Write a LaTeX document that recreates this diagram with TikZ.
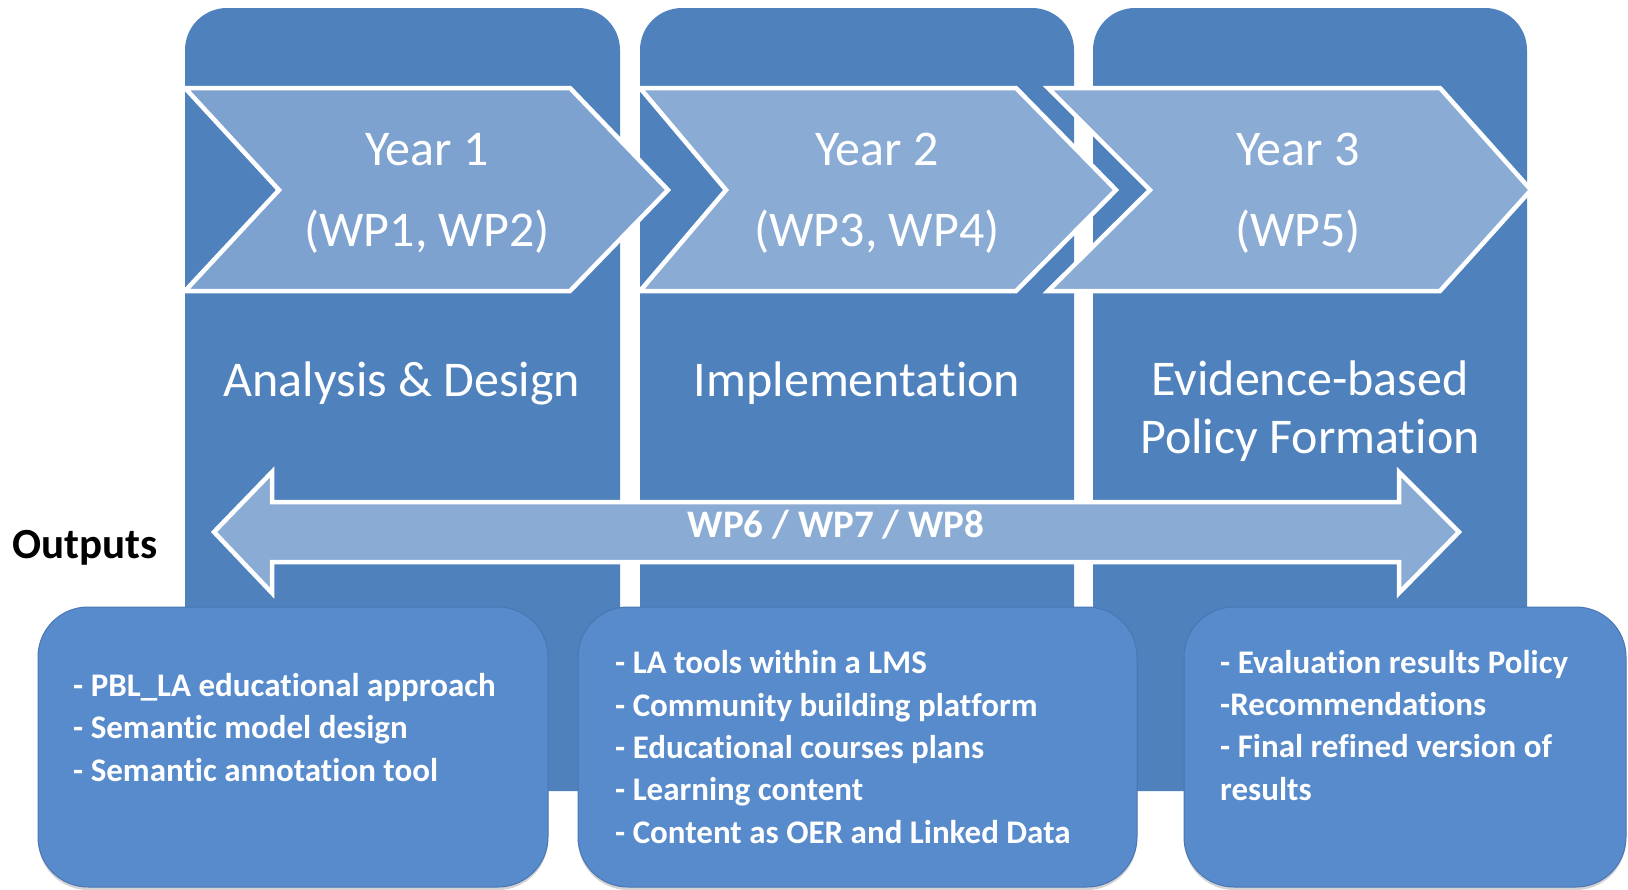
\documentclass[tikz,border=0pt]{standalone}
\usepackage{fontspec}
\setmainfont{Carlito}[Ligatures={NoCommon}]
\usepackage{tikz}
\usetikzlibrary{shadows}

\definecolor{phaseblue}{RGB}{79,129,189}
\definecolor{chevfirst}{RGB}{126,162,207}
\definecolor{chevlight}{RGB}{138,171,212}
\definecolor{outblue}{RGB}{88,139,203}
\definecolor{outedge}{RGB}{74,118,180}

\begin{document}
\begin{tikzpicture}[x=1pt, y=-1pt,
		phase/.style={fill=phaseblue, rounded corners=42},
		chevron/.style={fill=chevlight, draw=white, line width=4.5},
		outbox/.style={fill=outblue, draw=outedge, line width=1, rounded corners=50,
			drop shadow={shadow xshift=0pt, shadow yshift=-3pt, opacity=0.35}},
		headtext/.style={text=white, font=\fontsize{50}{58}\selectfont, inner sep=0, anchor=base},
		itemtext/.style={text=white, font=\bfseries\fontsize{33}{42.3}\selectfont, align=left, inner sep=0, anchor=base west}]
		%%%%% START %%%%%
		
		\useasboundingbox (0,0) rectangle (1628,889);
		
		% the three years
		\fill[phase] (185,8) rectangle (620,791);
		\fill[phase] (640,8) rectangle (1074,791);
		\fill[phase] (1093,8) rectangle (1527,791);
		
		\draw[chevron, fill=chevfirst] (185,88) -- (570,88) -- (668,190) -- (570,291) -- (185,291) -- (279,190) -- cycle;
		\draw[chevron] (640,88) -- (1016,88) -- (1116,190) -- (1016,291) -- (640,291) -- (726,190) -- cycle;
		\draw[chevron] (1048,88) -- (1440,88) -- (1531,190) -- (1440,291) -- (1048,291) -- (1150,190) -- cycle;
		
		\node[headtext] (year1) at (427,165) {Year 1};
		\node[headtext] (wps1) at (427,246) {(WP1, WP2)};
		\node[headtext] (year2) at (877,165) {Year 2};
		\node[headtext] (wps2) at (877,246) {(WP3, WP4)};
		\node[headtext] (year3) at (1298,165) {Year 3};
		\node[headtext] (wps3) at (1298,246) {(WP5)};
		
		\node[headtext] (analysis) at (402,396) {Analysis \& Design};
		\node[headtext] (implement) at (857,396) {Implementation};
		\node[headtext] (evidence) at (1310,395) {Evidence-based};
		\node[headtext] (policy) at (1310,453) {Policy Formation};
		
		% common work packages
		\draw[chevron] (214,532) -- (272,472) -- (272,502) -- (1399,502) -- (1399,472) -- (1459,532)
			-- (1399,593) -- (1399,562) -- (272,562) -- (272,593) -- cycle;
		\node[text=white, font=\bfseries\fontsize{39}{46}\selectfont, inner sep=0, anchor=base] (wpall) at (836,537) {WP6 / WP7 / WP8};
		
		\node[font=\bfseries\fontsize{43}{50}\selectfont, inner sep=0, anchor=base west] (outputs) at (12,558) {Outputs};
		
		% outputs (node base = last line)
		\draw[outbox] (38,607) rectangle (548,887);
		\draw[outbox] (578,607) rectangle (1137,887);
		\draw[outbox] (1184,607) rectangle (1626,887);
		
		\node[itemtext] (out1) at (73,781) {- PBL\_LA educational approach\\- Semantic model design\\- Semantic annotation tool};
		\node[itemtext] (out2) at (615,843) {- LA tools within a LMS\\- Community building platform\\- Educational courses plans\\- Learning content\\- Content as OER and Linked Data};
		\node[itemtext] (out3) at (1220,800) {- Evaluation results Policy\\-Recommendations\\- Final refined version of\\results};
		
		%%%%% END %%%%%
	\end{tikzpicture}
\end{document}
